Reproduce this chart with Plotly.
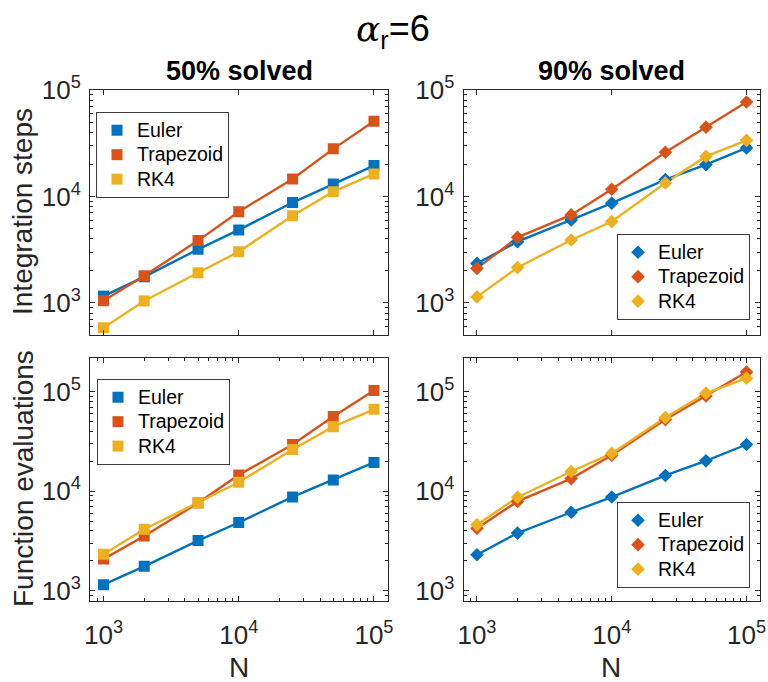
import plotly.graph_objects as go

# Problem sizes
N = [1000, 2000, 5000, 10000, 25000, 50000, 100000]
methods = ["Euler", "Trapezoid", "RK4"]
colors = ["#0072BD", "#D95319", "#EDB120"]

# Integration steps needed to solve 50% / 90% of instances
steps50_euler = [1160, 1760, 3190, 4850, 8770, 13100, 19500]
steps50_trap = [1050, 1800, 3850, 7200, 14600, 28000, 51000]
steps50_rk4 = [585, 1045, 1920, 3030, 6580, 11100, 16300]

steps90_euler = [2350, 3760, 6020, 8650, 14400, 19900, 28600]
steps90_trap = [2110, 4130, 6710, 11700, 26000, 44800, 77100]
steps90_rk4 = [1140, 2150, 3900, 5810, 13400, 23800, 33700]

# Function evaluations needed to solve 50% / 90% of instances
evals50_euler = [1150, 1760, 3190, 4850, 8770, 13000, 19500]
evals50_trap = [2080, 3550, 7600, 14600, 29500, 56500, 103000]
evals50_rk4 = [2330, 4150, 7700, 12300, 26300, 44600, 66500]

evals90_euler = [2300, 3800, 6150, 8750, 14400, 20200, 29500]
evals90_trap = [4250, 7900, 13400, 23000, 52500, 90500, 158000]
evals90_rk4 = [4600, 8700, 15800, 24000, 55000, 96500, 137000]

panels = [
    # (series, axis suffix, marker symbol, legend id)
    ([steps50_euler, steps50_trap, steps50_rk4], "", "square", "legend"),
    ([steps90_euler, steps90_trap, steps90_rk4], "2", "diamond", "legend2"),
    ([evals50_euler, evals50_trap, evals50_rk4], "3", "square", "legend3"),
    ([evals90_euler, evals90_trap, evals90_rk4], "4", "diamond", "legend4"),
]

FONT = "Arial, Liberation Sans, sans-serif"
INK = "#262626"
LEGEND_TEXT = 19.5   # rendered legend label size
LEGEND_ROW = 16.5    # legend font size that sets the row pitch

fig = go.Figure()
for series, ax, symbol, leg in panels:
    for name, ys, col in zip(methods, series, colors):
        fig.add_trace(go.Scatter(
            x=N, y=ys, mode="lines", line=dict(color=col, width=2.4),
            xaxis="x" + ax, yaxis="y" + ax, showlegend=False, hoverinfo="skip"))
    for name, ys, col in zip(methods, series, colors):
        fig.add_trace(go.Scatter(
            x=N, y=ys, mode="markers",
            name='<span style="font-size:%gpx">%s</span>' % (LEGEND_TEXT, name),
            marker=dict(symbol=symbol, color=col,
                        size=11 if symbol == "square" else 10.5, line=dict(width=0)),
            xaxis="x" + ax, yaxis="y" + ax, legend=leg))


def minor_vals(lo, hi):
    vals = []
    for p in range(lo, hi):
        for d in range(2, 10):
            vals.append(d * 10 ** p)
    return vals


def sup_labels(powers):
    return ["10<sup>%d</sup>" % p for p in powers]


xcols = [(90 / 768, 387.5 / 768), (463.5 / 768, 760 / 768)]
yrows = [(1 - 335 / 682, 1 - 90 / 682), (1 - 600.7 / 682, 1 - 357.5 / 682)]
yranges = [[2.699, 5.0], [2.9, 5.344]]

axis_common = dict(
    type="log", showline=True, linecolor=INK, linewidth=1, mirror="ticks",
    ticks="inside", ticklen=5, tickwidth=1, tickcolor=INK,
    showgrid=False, zeroline=False, automargin=False,
    tickfont=dict(family=FONT, size=26, color=INK),
)

layout_axes = {}
for idx in range(4):
    r, c = divmod(idx, 2)
    ax = "" if idx == 0 else str(idx + 1)
    bottom = r == 1
    xa = dict(axis_common)
    xa.update(
        domain=list(xcols[c]), anchor="y" + ax, range=[2.9, 5.1],
        tickmode="array", tickvals=[1e3, 1e4, 1e5],
        ticktext=sup_labels([3, 4, 5]) if bottom else ["", "", ""],
        showticklabels=bottom, ticklabelstandoff=11,
    )
    if bottom:
        xa["minor"] = dict(tickmode="array", tickvals=minor_vals(2, 5),
                           ticks="inside", ticklen=3, tickcolor=INK)
    ya = dict(axis_common)
    ya.update(
        domain=list(yrows[r]), anchor="x" + ax, range=yranges[r],
        tickmode="array", tickvals=[1e3, 1e4, 1e5],
        ticktext=sup_labels([3, 4, 5]), ticklabelstandoff=3,
        minor=dict(tickmode="array", tickvals=minor_vals(2, 5),
                   ticks="inside", ticklen=3, tickcolor=INK),
    )
    layout_axes["xaxis" + ax] = xa
    layout_axes["yaxis" + ax] = ya

legend_style = dict(
    xref="paper", yref="paper", xanchor="left", yanchor="top",
    bgcolor="white", bordercolor="#3c3c3c", borderwidth=1,
    font=dict(family=FONT, size=LEGEND_ROW, color="black"),
    itemclick=False, itemdoubleclick=False,
)
legend_pos = {
    "legend": (96 / 768, 1 - 112 / 682),
    "legend2": (617 / 768, 1 - 234 / 682),
    "legend3": (97 / 768, 1 - 379 / 682),
    "legend4": (617 / 768, 1 - 502 / 682),
}
legends = {k: dict(legend_style, x=v[0], y=v[1]) for k, v in legend_pos.items()}

annotations = [
    dict(text='<span style="font-family:DejaVu Serif"><i>α</i></span>'
              '<sub>r</sub>=6',
         x=393 / 768, y=1 - 31 / 682, font=dict(family=FONT, size=36, color="black")),
    dict(text="<b>50% solved</b>", x=239 / 768, y=1 - 71 / 682,
         font=dict(family=FONT, size=27, color="black")),
    dict(text="<b>90% solved</b>", x=611 / 768, y=1 - 71 / 682,
         font=dict(family=FONT, size=27, color="black")),
    dict(text="Integration steps", x=23 / 768, y=1 - 212 / 682, textangle=-90,
         font=dict(family=FONT, size=28, color=INK)),
    dict(text="Function evaluations", x=23 / 768, y=1 - 479 / 682, textangle=-90,
         font=dict(family=FONT, size=28, color=INK)),
    dict(text="N", x=239 / 768, y=1 - 667 / 682,
         font=dict(family=FONT, size=28, color=INK)),
    dict(text="N", x=611 / 768, y=1 - 667 / 682,
         font=dict(family=FONT, size=28, color=INK)),
]
for a in annotations:
    a.update(xref="paper", yref="paper", showarrow=False,
             xanchor="center", yanchor="middle")

fig.update_layout(
    width=768, height=682, autosize=False,
    margin=dict(l=0, r=0, t=0, b=0, pad=0, autoexpand=False),
    paper_bgcolor="white", plot_bgcolor="white",
    showlegend=True,
    annotations=annotations,
    **layout_axes,
    **legends,
)

fig.write_html(
    "out.html", include_plotlyjs=True, full_html=True,
    config={"displayModeBar": False},
    post_script="document.body.style.margin='0';document.body.style.overflow='hidden';",
)
